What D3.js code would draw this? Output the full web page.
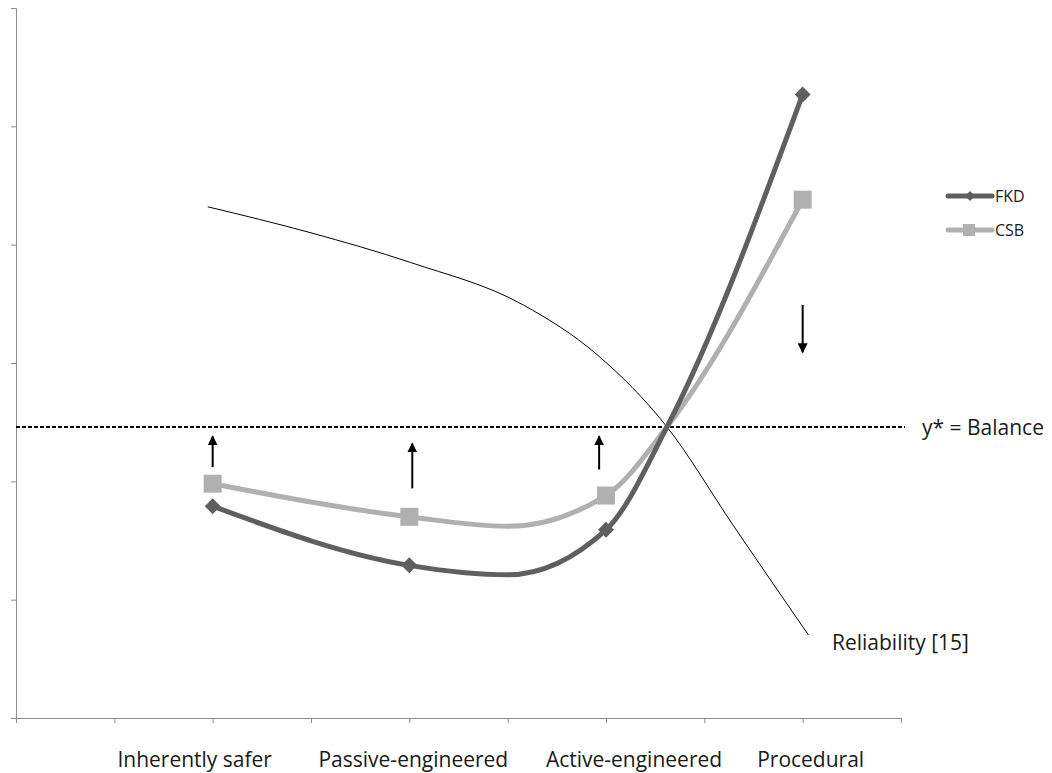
<!DOCTYPE html>
<html>
<head>
<meta charset="utf-8">
<script src="https://cdn.jsdelivr.net/npm/d3@7"></script>
<style>
  body { margin: 0; background: #fff; }
  text { font-family: "Open Sans", sans-serif; }
</style>
</head>
<body>
<svg id="chart" width="1052" height="773"></svg>
<script>
// category labels sit on every second tick of a 9-step axis
const categories = ['Inherently safer', 'Passive-engineered', 'Active-engineered', 'Procedural'];
const categoryPos = [2, 4, 6, 8];

// FKD series (marked points + unmarked points that shape the smooth curve)
const fkdX = [2, 4, 5, 6, 6.62, 8];
const fkdY = [1.79, 1.29, 1.21, 1.59, 2.46, 5.27];
const fkdMarked = [true, true, false, true, false, true];

// CSB series
const csbX = [2, 4, 5, 6, 6.62, 8];
const csbY = [1.98, 1.70, 1.62, 1.88, 2.46, 4.38];
const csbMarked = [true, true, false, true, false, true];

// reliability curve [15]
const relX = [1.95, 3.0, 4.01, 5.16, 5.91, 6.62, 7.3, 8.06];
const relY = [4.32, 4.10, 3.85, 3.49, 3.07, 2.46, 1.62, 0.70];

// balance level y*
const balance = 2.46;

// arrows: position, start value, end value
const arrowX = [2, 4.03, 5.93, 8];
const arrowFrom = [2.12, 1.94, 2.10, 3.49];
const arrowTo = [2.38, 2.32, 2.38, 3.09];

const svg = d3.select('#chart');

// scales: x is a 0..9 value axis, y is 0..6 with no labels
const x = d3.scaleLinear().domain([0, 9]).range([16, 901]);
const y = d3.scaleLinear().domain([0, 6]).range([718, 8]);

// y axis (ticks only, pointing outward)
svg.append('g')
  .attr('transform', `translate(${x(0)},0)`)
  .call(d3.axisLeft(y).ticks(6).tickSize(5).tickFormat(''))
  .call(g => g.selectAll('line, path').attr('stroke', '#8c8c8c'));

// x axis (ticks only)
svg.append('g')
  .attr('transform', `translate(0,${y(0)})`)
  .call(d3.axisBottom(x).ticks(9).tickSize(5).tickSizeOuter(5).tickFormat(''))
  .call(g => g.selectAll('line, path').attr('stroke', '#8c8c8c'));

// category labels, nudged like the original
const labelShift = [-18, 4, 28, 8];
svg.selectAll('.cat')
  .data(categories)
  .join('text')
  .attr('class', 'cat')
  .attr('x', (d, i) => x(categoryPos[i]) + labelShift[i])
  .attr('y', 767)
  .attr('text-anchor', 'middle')
  .attr('font-size', 21)
  .attr('fill', '#1a1a1a')
  .text(d => d);

// balance dashed line
svg.append('line')
  .attr('x1', x(0)).attr('x2', 905)
  .attr('y1', y(balance)).attr('y2', y(balance))
  .attr('stroke', '#000')
  .attr('stroke-width', 2)
  .attr('stroke-dasharray', '4,2');

svg.append('text')
  .attr('x', 922).attr('y', y(balance) + 8)
  .attr('font-size', 21)
  .attr('fill', '#1a1a1a')
  .text('y* = Balance');

// reliability curve
const relLine = d3.line()
  .x(d => x(d[0])).y(d => y(d[1]))
  .curve(d3.curveMonotoneX);

svg.append('path')
  .datum(relX.map((v, i) => [v, relY[i]]))
  .attr('d', relLine)
  .attr('fill', 'none')
  .attr('stroke', '#000')
  .attr('stroke-width', 1);

svg.append('text')
  .attr('x', 832).attr('y', 650)
  .attr('font-size', 21)
  .attr('fill', '#1a1a1a')
  .text('Reliability [15]');

// arrow heads
const defs = svg.append('defs');
defs.append('marker')
  .attr('id', 'head')
  .attr('viewBox', '0 0 10 10')
  .attr('refX', 9).attr('refY', 5)
  .attr('markerWidth', 5).attr('markerHeight', 5)
  .attr('markerUnits', 'strokeWidth')
  .attr('orient', 'auto')
  .append('path')
  .attr('d', 'M0,0 L10,5 L0,10 Z')
  .attr('fill', '#000');

svg.selectAll('.arrow')
  .data(arrowX)
  .join('line')
  .attr('class', 'arrow')
  .attr('x1', d => x(d)).attr('x2', d => x(d))
  .attr('y1', (d, i) => y(arrowFrom[i]))
  .attr('y2', (d, i) => y(arrowTo[i]))
  .attr('stroke', '#000')
  .attr('stroke-width', 2)
  .attr('marker-end', 'url(#head)');

// series lines
const seriesLine = d3.line()
  .x(d => x(d[0])).y(d => y(d[1]))
  .curve(d3.curveMonotoneX);

const series = [
  { name: 'FKD', xs: fkdX, ys: fkdY, marked: fkdMarked, color: '#5f5f5f', shape: 'diamond' },
  { name: 'CSB', xs: csbX, ys: csbY, marked: csbMarked, color: '#b0b0b0', shape: 'square' }
];

const diamond = s => `M0,${-s} L${s},0 L0,${s} L${-s},0 Z`;

// draw CSB first so FKD sits on top
series.slice().reverse().forEach(s => {
  const pts = s.xs.map((v, i) => [v, s.ys[i]]);
  svg.append('path')
    .datum(pts)
    .attr('d', seriesLine)
    .attr('fill', 'none')
    .attr('stroke', s.color)
    .attr('stroke-width', 5)
    .attr('stroke-linecap', 'round');

  const marks = pts.filter((d, i) => s.marked[i]);
  if (s.shape === 'square') {
    svg.selectAll('.sq')
      .data(marks)
      .join('rect')
      .attr('class', 'sq')
      .attr('x', d => x(d[0]) - 9).attr('y', d => y(d[1]) - 9)
      .attr('width', 18).attr('height', 18)
      .attr('fill', s.color);
  } else {
    svg.selectAll('.dm')
      .data(marks)
      .join('path')
      .attr('class', 'dm')
      .attr('transform', d => `translate(${x(d[0])},${y(d[1])})`)
      .attr('d', diamond(8))
      .attr('fill', s.color);
  }
});

// legend
const legend = svg.append('g').attr('transform', 'translate(948,196)');
series.forEach((s, i) => {
  const g = legend.append('g').attr('transform', `translate(0,${i * 34})`);
  g.append('line')
    .attr('x1', 0).attr('x2', 44)
    .attr('stroke', s.color).attr('stroke-width', 5)
    .attr('stroke-linecap', 'round');
  if (s.shape === 'square') {
    g.append('rect').attr('x', 15).attr('y', -6).attr('width', 12).attr('height', 12).attr('fill', s.color);
  } else {
    g.append('path').attr('transform', 'translate(22,0)').attr('d', diamond(5)).attr('fill', s.color);
  }
  g.append('text')
    .attr('x', 47).attr('y', 6)
    .attr('font-size', 16)
    .attr('fill', '#1a1a1a')
    .text(s.name);
});
</script>
</body>
</html>
